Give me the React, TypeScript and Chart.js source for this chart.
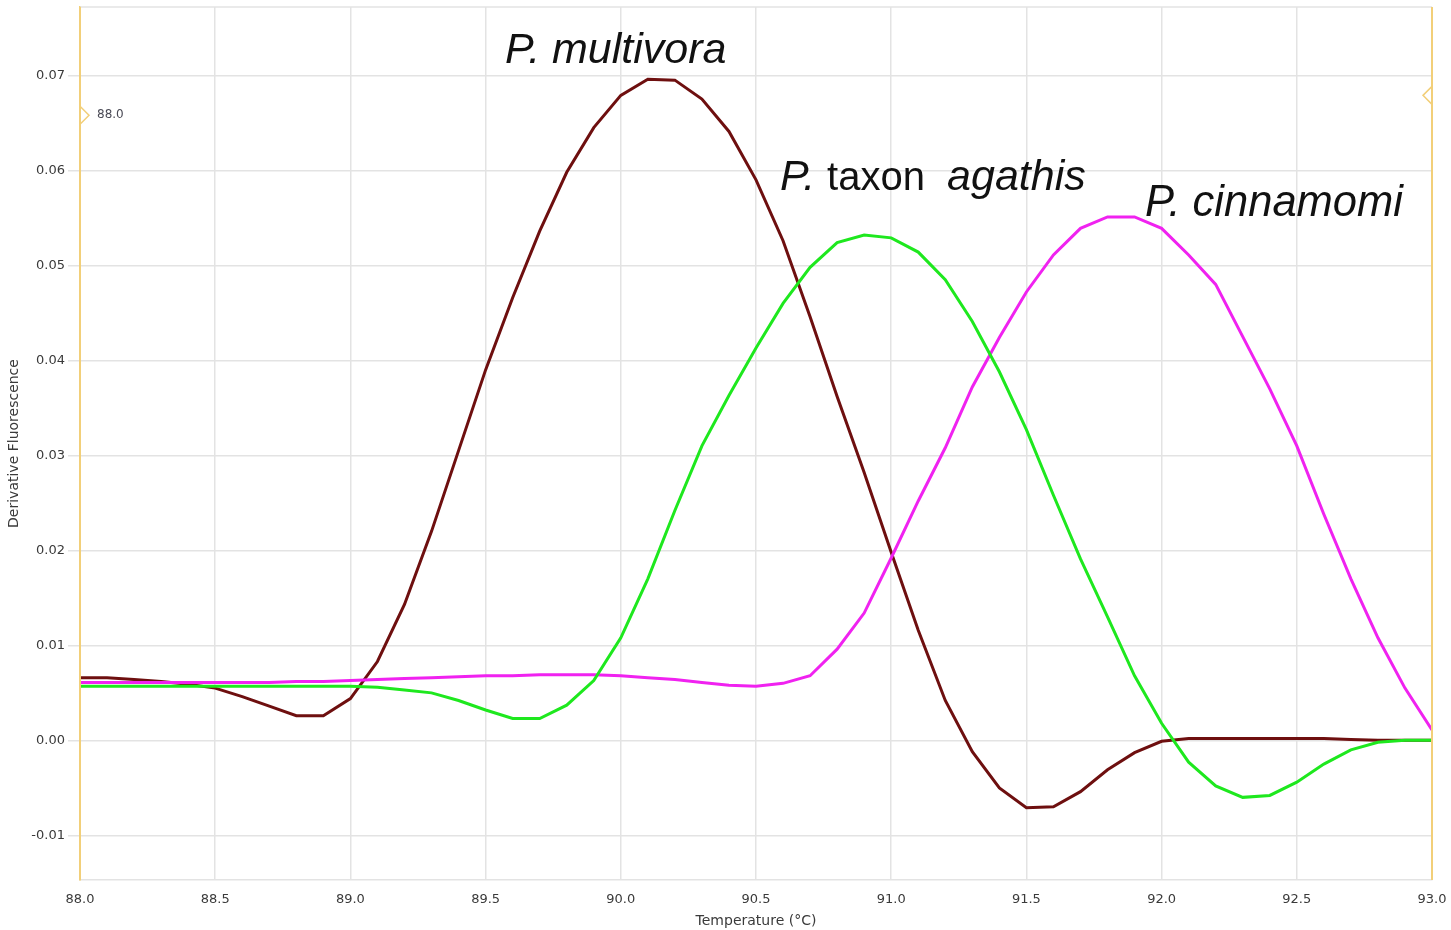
import React, { useEffect, useRef } from "react";
import { Chart, registerables } from "chart.js";

Chart.register(...registerables);

const temperatures = [
  88.0, 88.1, 88.2, 88.3, 88.4, 88.5, 88.6, 88.7, 88.8, 88.9,
  89.0, 89.1, 89.2, 89.3, 89.4, 89.5, 89.6, 89.7, 89.8, 89.9,
  90.0, 90.1, 90.2, 90.3, 90.4, 90.5, 90.6, 90.7, 90.8, 90.9,
  91.0, 91.1, 91.2, 91.3, 91.4, 91.5, 91.6, 91.7, 91.8, 91.9,
  92.0, 92.1, 92.2, 92.3, 92.4, 92.5, 92.6, 92.7, 92.8, 92.9,
  93.0,
];

const multivora = [
  0.0066, 0.0066, 0.0064, 0.0062, 0.0059, 0.0055, 0.0046, 0.0036, 0.0026, 0.0026,
  0.0044, 0.0083, 0.0143, 0.0220, 0.0305, 0.0390, 0.0466, 0.0536, 0.0598, 0.0645,
  0.0679, 0.0696, 0.0695, 0.0675, 0.0641, 0.0590, 0.0526, 0.0446, 0.0362, 0.0282,
  0.0198, 0.0116, 0.0042, -0.0012, -0.0050, -0.0071, -0.0070, -0.0054, -0.0031, -0.0013,
  -0.0001, 0.0002, 0.0002, 0.0002, 0.0002, 0.0002, 0.0002, 0.0001, 0.0000, 0.0000,
  0.0000,
];

const taxonAgathis = [
  0.0057, 0.0057, 0.0057, 0.0057, 0.0057, 0.0057, 0.0057, 0.0057, 0.0057, 0.0057,
  0.0057, 0.0056, 0.0053, 0.0050, 0.0042, 0.0032, 0.0023, 0.0023, 0.0037, 0.0063,
  0.0108, 0.0170, 0.0242, 0.0310, 0.0363, 0.0413, 0.0460, 0.0498, 0.0524, 0.0532,
  0.0529, 0.0514, 0.0485, 0.0441, 0.0388, 0.0327, 0.0258, 0.0191, 0.0130, 0.0068,
  0.0018, -0.0023, -0.0048, -0.0060, -0.0058, -0.0044, -0.0025, -0.0010, -0.0002, 0.0000,
  0.0000,
];

const cinnamomi = [
  0.0061, 0.0061, 0.0061, 0.0061, 0.0061, 0.0061, 0.0061, 0.0061, 0.0062, 0.0062,
  0.0063, 0.0064, 0.0065, 0.0066, 0.0067, 0.0068, 0.0068, 0.0069, 0.0069, 0.0069,
  0.0068, 0.0066, 0.0064, 0.0061, 0.0058, 0.0057, 0.0060, 0.0068, 0.0096, 0.0134,
  0.0192, 0.0252, 0.0308, 0.0372, 0.0424, 0.0472, 0.0511, 0.0539, 0.0551, 0.0551,
  0.0539, 0.0511, 0.0480, 0.0425, 0.0370, 0.0310, 0.0238, 0.0170, 0.0108, 0.0055,
  0.0011,
];

const yTicks = [-0.01, 0.0, 0.01, 0.02, 0.03, 0.04, 0.05, 0.06, 0.07];
const xTicks = [88.0, 88.5, 89.0, 89.5, 90.0, 90.5, 91.0, 91.5, 92.0, 92.5, 93.0];

const seriesNames = ["P. multivora", "P. taxon agathis", "P. cinnamomi"];

// label segments: [text, italic, size]
const labelSegments: [string, boolean, number][][] = [
  [["P. multivora", true, 43]],
  [["P. ", true, 43], ["taxon  ", false, 40], ["agathis", true, 43]],
  [["P. cinnamomi", true, 43.5]],
];
const labelAnchorsT = [88.0 + 425 / 270.4, 88.0 + 700 / 270.4, 88.0 + 1065 / 270.4];
const labelAnchorsV = [0.0713, 0.0579, 0.0552];

const GOLD = "#f2cf79";
const GRID = "#e3e3e3";
const TICK_FONT = { family: "'DejaVu Sans', sans-serif", size: 13 };
const TITLE_FONT = { family: "'DejaVu Sans', sans-serif", size: 14 };

export default function App() {
  const ref = useRef<HTMLCanvasElement | null>(null);

  useEffect(() => {
    document.body.style.margin = "0";
    const canvas = ref.current;
    if (!canvas) return;

    const overlay = {
      id: "overlay",
      afterDraw(chart: any) {
        const ctx = chart.ctx;
        const { left, right, top, bottom } = chart.chartArea;
        const xs = chart.scales.x;
        const ys = chart.scales.y;
        ctx.save();
        ctx.strokeStyle = GRID;
        ctx.lineWidth = 1.5;
        ctx.beginPath();
        ctx.moveTo(left, top);
        ctx.lineTo(right, top);
        ctx.stroke();
        ctx.strokeStyle = GOLD;
        ctx.lineWidth = 2;
        ctx.beginPath();
        ctx.moveTo(left, top);
        ctx.lineTo(left, bottom);
        ctx.moveTo(right, top);
        ctx.lineTo(right, bottom);
        ctx.stroke();
        ctx.lineWidth = 1.5;
        const yL = ys.getPixelForValue(0.0658);
        ctx.beginPath();
        ctx.moveTo(left, yL - 9);
        ctx.lineTo(left + 9, yL);
        ctx.lineTo(left, yL + 9);
        ctx.stroke();
        const yR = ys.getPixelForValue(0.0679);
        ctx.beginPath();
        ctx.moveTo(right, yR - 9);
        ctx.lineTo(right - 9, yR);
        ctx.lineTo(right, yR + 9);
        ctx.stroke();
        ctx.fillStyle = "#4a4a55";
        ctx.font = "12px 'DejaVu Sans', sans-serif";
        ctx.textBaseline = "middle";
        ctx.textAlign = "left";
        ctx.fillText("88.0", left + 17, yL);
        ctx.fillStyle = "#111";
        ctx.textBaseline = "alphabetic";
        labelSegments.forEach((segs, i) => {
          let x = xs.getPixelForValue(labelAnchorsT[i]);
          const y = ys.getPixelForValue(labelAnchorsV[i]);
          segs.forEach(([t, it, sz]) => {
            ctx.font = `${it ? "italic " : ""}${sz}px 'Liberation Sans', Arial, sans-serif`;
            ctx.fillText(t, x, y);
            x += ctx.measureText(t).width;
          });
        });
        ctx.restore();
      },
    };

    const mk = (vals: number[]) => temperatures.map((t, i) => ({ x: t, y: vals[i] }));

    const chart = new Chart(canvas, {
      type: "line",
      data: {
        datasets: [
          { label: seriesNames[1], data: mk(taxonAgathis), borderColor: "#1ee81e", borderWidth: 3, pointRadius: 0, tension: 0 },
          { label: seriesNames[2], data: mk(cinnamomi), borderColor: "#f022f0", borderWidth: 3, pointRadius: 0, tension: 0 },
          { label: seriesNames[0], data: mk(multivora), borderColor: "#6e0f0f", borderWidth: 3, pointRadius: 0, tension: 0 },
        ],
      },
      options: {
        responsive: false,
        animation: false,
        events: [],
        layout: { padding: { top: 7, right: 19, left: 0, bottom: 0 } },
        plugins: { legend: { display: false }, tooltip: { enabled: false } },
        scales: {
          x: {
            type: "linear",
            min: 88,
            max: 93,
            afterBuildTicks: (s: any) => { s.ticks = xTicks.map((v) => ({ value: v })); },
            afterFit: (s: any) => {
              s.height = 50;
              s.paddingLeft = 0; s.paddingRight = 0; s.paddingTop = 0; s.paddingBottom = 0;
            },
            grid: { color: GRID, lineWidth: 1.5, drawTicks: false },
            border: { color: GRID, width: 1.5 },
            ticks: {
              padding: 12,
              color: "#3a3a3a",
              font: TICK_FONT,
              maxRotation: 0,
              autoSkip: false,
              callback: (v: any) => Number(v).toFixed(1),
            },
            title: {
              display: true,
              text: "Temperature (°C)",
              color: "#3a3a3a",
              font: TITLE_FONT,
              padding: { top: 3, bottom: 0 },
            },
          },
          y: {
            type: "linear",
            min: -0.0147,
            max: 0.0772,
            afterBuildTicks: (s: any) => { s.ticks = yTicks.map((v) => ({ value: v })); },
            afterFit: (s: any) => {
              s.width = 80;
              s.paddingLeft = 0; s.paddingRight = 0; s.paddingTop = 0; s.paddingBottom = 0;
            },
            grid: { color: GRID, lineWidth: 1.5, drawTicks: true, tickLength: 12 },
            border: { color: GOLD, width: 2 },
            ticks: {
              padding: 3,
              color: "#3a3a3a",
              font: TICK_FONT,
              autoSkip: false,
              callback: (v: any) => Number(v).toFixed(2),
            },
            title: {
              display: true,
              text: "Derivative Fluorescence",
              color: "#3a3a3a",
              font: TITLE_FONT,
              padding: { top: 6, bottom: 0 },
            },
          },
        },
      },
      plugins: [overlay],
    });

    return () => chart.destroy();
  }, []);

  return (
    <div style={{ position: "fixed", left: 0, top: 0, width: 1451, height: 930, background: "#fff" }}>
      <canvas ref={ref} width={1451} height={930} />
    </div>
  );
}
